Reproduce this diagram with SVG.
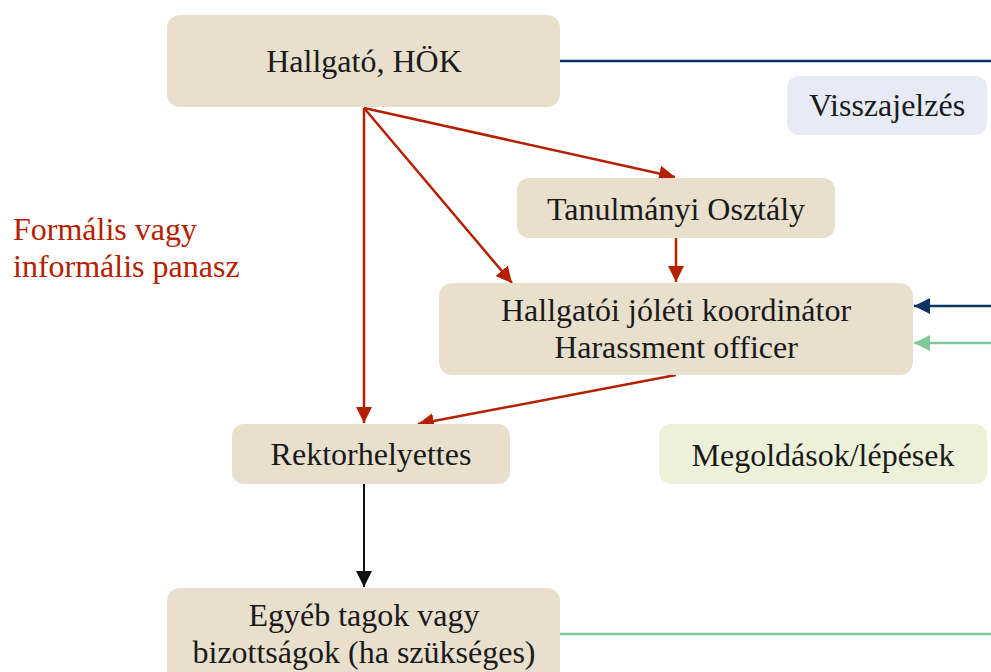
<svg xmlns="http://www.w3.org/2000/svg" width="991" height="672" viewBox="0 0 991 672">
<style>
.box{fill:#e8dfcc}
.t{font-family:"Liberation Serif","Times New Roman",serif;font-size:32px;fill:#1a1a1a;text-anchor:middle}
.red{stroke:#b52000;stroke-width:2.5;fill:none}
.lbl{font-family:"Liberation Serif","Times New Roman",serif;font-size:32px;fill:#b52000}
</style>
<defs>
<marker id="ar" markerUnits="userSpaceOnUse" markerWidth="18" markerHeight="18" viewBox="0 0 18 18" refX="16" refY="9" orient="auto"><path d="M0,1 L16,9 L0,17 Z" fill="#b52000"/></marker>
<marker id="ak" markerUnits="userSpaceOnUse" markerWidth="18" markerHeight="18" viewBox="0 0 18 18" refX="16" refY="9" orient="auto"><path d="M0,1 L16,9 L0,17 Z" fill="#111"/></marker>
<marker id="ab" markerUnits="userSpaceOnUse" markerWidth="18" markerHeight="18" viewBox="0 0 18 18" refX="16" refY="9" orient="auto"><path d="M0,1 L16,9 L0,17 Z" fill="#0a3463"/></marker>
<marker id="ag" markerUnits="userSpaceOnUse" markerWidth="18" markerHeight="18" viewBox="0 0 18 18" refX="16" refY="9" orient="auto"><path d="M0,1 L16,9 L0,17 Z" fill="#80c79b"/></marker>
</defs>
<g id="connectors">
<line x1="560" y1="61" x2="991" y2="61" stroke="#0a3463" stroke-width="2.5"/>
<line x1="364" y1="108" x2="675" y2="177" class="red" marker-end="url(#ar)"/>
<line x1="364" y1="108" x2="512" y2="283" class="red" marker-end="url(#ar)"/>
<line x1="364" y1="108" x2="364" y2="423" class="red" marker-end="url(#ar)"/>
<line x1="676" y1="238" x2="676" y2="282" class="red" marker-end="url(#ar)"/>
<line x1="676" y1="375" x2="418" y2="424" class="red" marker-end="url(#ar)"/>
<line x1="364" y1="484" x2="364" y2="587" stroke="#111" stroke-width="2" marker-end="url(#ak)"/>
<line x1="991" y1="306" x2="914" y2="306" stroke="#0a3463" stroke-width="2.5" marker-end="url(#ab)"/>
<line x1="991" y1="343" x2="914" y2="343" stroke="#80c79b" stroke-width="2.5" marker-end="url(#ag)"/>
<line x1="560" y1="634" x2="991" y2="634" stroke="#80c79b" stroke-width="2.5"/>
</g>
<g id="label-panasz">
<text class="lbl" x="13" y="240">Formális vagy</text>
<text class="lbl" x="13" y="277">informális panasz</text>
</g>
<g id="hallgato">
<rect class="box" x="167" y="15" width="393" height="92" rx="13"/>
<text class="t" x="364" y="72">Hallgató, HÖK</text>
</g>
<g id="visszajelzes">
<rect x="787" y="76" width="200" height="59" rx="12" fill="#e6ebf6"/>
<text class="t" x="887" y="116">Visszajelzés</text>
</g>
<g id="tanulmanyi">
<rect class="box" x="517" y="178" width="318" height="60" rx="12"/>
<text class="t" x="676" y="220">Tanulmányi Osztály</text>
</g>
<g id="koordinator">
<rect class="box" x="439" y="283" width="474" height="92" rx="13"/>
<text class="t" x="676" y="321">Hallgatói jóléti koordinátor</text>
<text class="t" x="676" y="358">Harassment officer</text>
</g>
<g id="rektorhelyettes">
<rect class="box" x="232" y="424" width="278" height="60" rx="12"/>
<text class="t" x="371" y="465">Rektorhelyettes</text>
</g>
<g id="megoldasok">
<rect x="659" y="424" width="328" height="60" rx="12" fill="#eef1da"/>
<text class="t" x="823" y="466">Megoldások/lépések</text>
</g>
<g id="egyeb">
<rect class="box" x="167" y="588" width="393" height="100" rx="13"/>
<text class="t" x="364" y="626">Egyéb tagok vagy</text>
<text class="t" x="364" y="663">bizottságok (ha szükséges)</text>
</g>
</svg>
